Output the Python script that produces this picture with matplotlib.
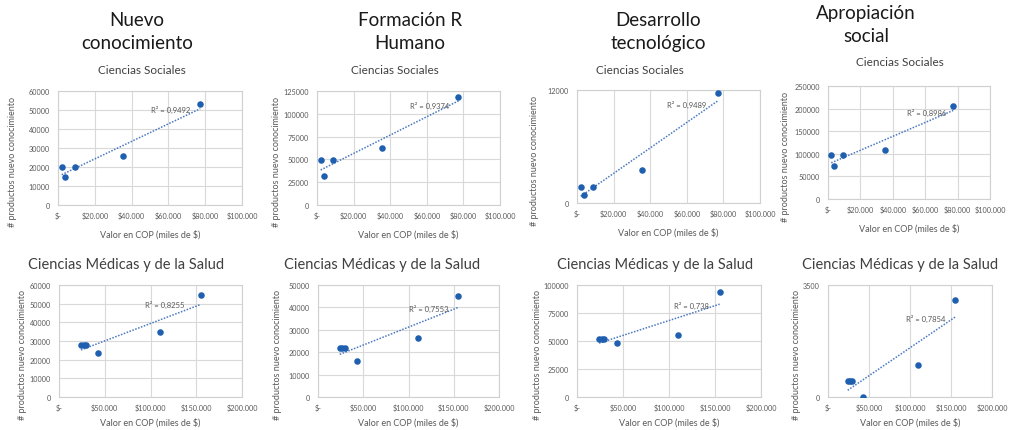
import numpy as np
import matplotlib
matplotlib.use("Agg")
import matplotlib.pyplot as plt
from matplotlib.ticker import FuncFormatter

plt.rcParams['font.family'] = ['Lato', 'DejaVu Sans']

# valores en COP (miles de $)
x_sociales = [2000, 4000, 9000, 35300, 77300]
x_medicas = [24000, 26800, 29500, 43000, 110000, 155000]

# productos por tipologia - Ciencias Sociales
y_soc_nuevo = [20000, 15000, 20000, 26000, 53000]
y_soc_formacion = [49000, 32000, 49000, 62000, 118500]
y_soc_desarrollo = [1700, 900, 1700, 3500, 11650]
y_soc_apropiacion = [97000, 73500, 97000, 108000, 206000]

# productos por tipologia - Ciencias Medicas y de la Salud
y_med_nuevo = [28000, 28000, 28000, 23500, 34800, 54500]
y_med_formacion = [22000, 22000, 22000, 16000, 26300, 45000]
y_med_desarrollo = [52000, 52000, 52000, 48500, 55500, 93500]
y_med_apropiacion = [500, 500, 500, 0, 1000, 3030]

r2_sociales = ["0,9492", "0,9374", "0,9489", "0,8986"]
r2_medicas = ["0,8255", "0,7553", "0,738", "0,7854"]

columnas = ["Nuevo\nconocimiento", "Formación R\nHumano", "Desarrollo\ntecnológico", "Apropiación\nsocial"]

yticks_soc = [np.arange(0, 60001, 10000), np.arange(0, 125001, 25000), [0, 12000], np.arange(0, 250001, 50000)]
yticks_med = [np.arange(0, 60001, 10000), np.arange(0, 50001, 10000), np.arange(0, 100001, 25000), [0, 3500]]
xticks_soc = np.arange(0, 100001, 20000)
xticks_med = np.arange(0, 200001, 50000)

W, H = 1012, 431
fig = plt.figure(figsize=(W / 100, H / 100), dpi=100)

# plot areas in pixels: left, top, right, bottom
cajas_top = [(58, 92, 242, 206), (317, 92, 500, 206), (577, 91, 760, 204), (828, 87, 990, 200)]
cajas_bot = [(59, 286, 242, 398), (318, 286, 499, 398), (577, 286, 761, 398), (828, 286, 992, 398)]
r2_pos_top = [(0.717, 0.845), (0.724, 0.874), (0.705, 0.874), (0.732, 0.77)]
r2_pos_bot = [(0.688, 0.828), (0.72, 0.795), (0.716, 0.82), (0.717, 0.71)]
ylabel_x_top = [13, 277, 535, 786]
ylabel_x_bot = [23, 278, 538, 797]

gris = '#595959'
azul = '#1f5faf'


def pesos(v, pos):
    if v == 0:
        return "$-"
    return "$" + f"{int(v):,}".replace(",", ".")


def panel(caja, x, y, yticks, xticks, r2, r2_pos, ylx, xpad):
    l, t, r, b = caja
    ax = fig.add_axes([l / W, 1 - b / H, (r - l) / W, (b - t) / H])
    ax.scatter(x, y, s=22, color=azul, zorder=3, linewidths=0)
    m, c = np.polyfit(x, y, 1)
    xs = np.array([min(x), max(x)])
    ax.plot(xs, m * xs + c, linestyle=(0, (1, 1)), color='#4a78c0', lw=1.1, zorder=2)
    ax.text(r2_pos[0], r2_pos[1], "R² = " + r2, transform=ax.transAxes, ha='right', va='center',
            fontsize=5.5, color=gris, zorder=4)
    ax.set_xlim(xticks[0], xticks[-1])
    ax.set_ylim(yticks[0], yticks[-1])
    ax.set_xticks(xticks)
    ax.set_yticks(yticks)
    ax.xaxis.set_major_formatter(FuncFormatter(pesos))
    ax.tick_params(length=0, labelsize=5.2, labelcolor=gris)
    ax.tick_params(axis='x', pad=5)
    ax.tick_params(axis='y', pad=6)
    ax.grid(True, color='#d9d9d9', lw=0.8)
    ax.set_axisbelow(True)
    for s in ax.spines.values():
        s.set_color('#d0d0d0')
        s.set_linewidth(0.8)
    ax.set_xlabel("Valor en COP (miles de $)", fontsize=6.5, color=gris, labelpad=xpad)
    yc = (t + b) / 2 + 13
    fig.text(ylx / W, 1 - yc / H, "# productos nuevo conocimiento", rotation=90,
             ha='center', va='center', fontsize=6.5, color=gris)
    return ax


ys_soc = [y_soc_nuevo, y_soc_formacion, y_soc_desarrollo, y_soc_apropiacion]
ys_med = [y_med_nuevo, y_med_formacion, y_med_desarrollo, y_med_apropiacion]

for i in range(4):
    panel(cajas_top[i], x_sociales, ys_soc[i], yticks_soc[i], xticks_soc, r2_sociales[i], r2_pos_top[i], ylabel_x_top[i], 7)
    panel(cajas_bot[i], x_medicas, ys_med[i], yticks_med[i], xticks_med, r2_medicas[i], r2_pos_bot[i], ylabel_x_bot[i], 4)

# encabezados de columna y subtitulos
titulo_x = [137, 410, 658, 866]
titulo_y = [32, 32, 32, 25]
sub_top_x = [142, 395, 640, 900]
sub_top_y = [71, 71, 71, 63]
sub_bot_x = [126, 382, 655, 900]
for i in range(4):
    fig.text(titulo_x[i] / W, 1 - titulo_y[i] / H, columnas[i], ha='center', va='center',
             fontsize=13.5, color='#1a1a1a', linespacing=1.4)
    fig.text(sub_top_x[i] / W, 1 - sub_top_y[i] / H, "Ciencias Sociales", ha='center', va='center',
             fontsize=8.5, color='#404040')
    fig.text(sub_bot_x[i] / W, 1 - 265 / H, "Ciencias Médicas y de la Salud", ha='center', va='center',
             fontsize=10.5, color='#404040')

fig.savefig("out.png", dpi=100)
